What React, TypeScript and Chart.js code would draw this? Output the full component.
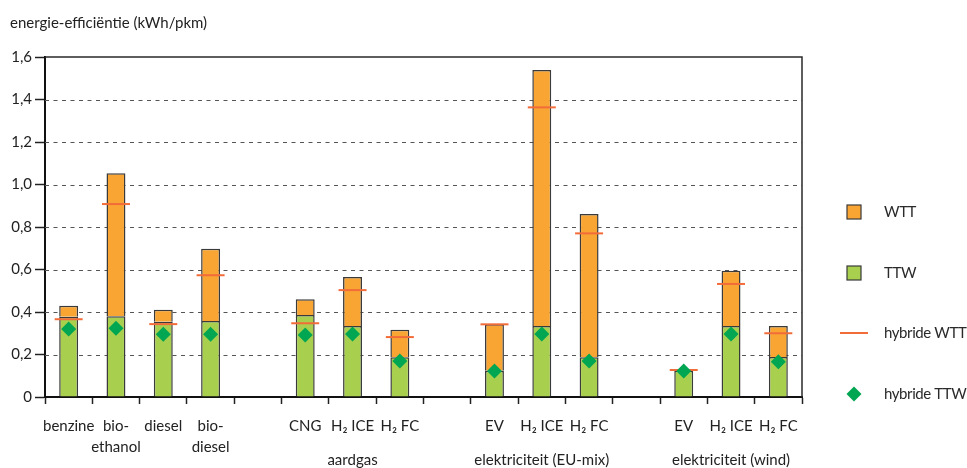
import React, { useEffect, useRef } from "react";
import { Chart, registerables } from "chart.js";

Chart.register(...registerables);

const categories: (string | string[])[] = [
  "benzine", ["bio-", "ethanol"], "diesel", ["bio-", "diesel"], "",
  "CNG", "H₂ ICE", "H₂ FC", "",
  "EV", "H₂ ICE", "H₂ FC", "",
  "EV", "H₂ ICE", "H₂ FC",
];

const groupLabels: { index: number; label: string }[] = [
  { index: 6, label: "aardgas" },
  { index: 10, label: "elektriciteit (EU-mix)" },
  { index: 14, label: "elektriciteit (wind)" },
];

const ttw = [0.378, 0.38, 0.354, 0.358, null, 0.386, 0.334, 0.187, null, 0.124, 0.334, 0.187, null, 0.124, 0.334, 0.188];
const wtt = [0.052, 0.673, 0.057, 0.34, null, 0.074, 0.231, 0.13, null, 0.218, 1.205, 0.674, null, 0, 0.26, 0.146];
const hybridWtt = [0.366, 0.908, 0.343, 0.573, null, 0.347, 0.503, 0.282, null, 0.342, 1.363, 0.77, null, 0.127, 0.532, 0.3];
const hybridTtw = [0.32, 0.323, 0.295, 0.295, null, 0.292, 0.296, 0.169, null, 0.122, 0.296, 0.169, null, 0.122, 0.296, 0.166];

const yTicks = [0, 0.2, 0.4, 0.6, 0.8, 1.0, 1.2, 1.4, 1.6];

const titleText = "energie-efficiëntie (kWh/pkm)";
const legendLabels = ["WTT", "TTW", "hybride WTT", "hybride TTW"];

const ORANGE = "#F9A533";
const GREEN = "#A8CF4E";
const RED = "#F26C3A";
const DIAMOND = "#00A651";
const EDGE = "#3a3a3a";
const FONT = "Lato, 'Open Sans', sans-serif";

const gridPlugin = {
  id: "dashedGrid",
  beforeDatasetsDraw(chart: any) {
    const { ctx, chartArea } = chart;
    const ys = chart.scales.y;
    ctx.save();
    ctx.strokeStyle = "#555";
    ctx.lineWidth = 1;
    ctx.setLineDash([4, 4.5]);
    yTicks.forEach((v) => {
      if (v === 0 || v === yTicks[yTicks.length - 1]) return;
      const y = Math.round(ys.getPixelForValue(v)) + 0.5;
      ctx.beginPath();
      ctx.moveTo(chartArea.left, y);
      ctx.lineTo(chartArea.right, y);
      ctx.stroke();
    });
    ctx.restore();
  },
};

const extrasPlugin = {
  id: "extras",
  afterDraw(chart: any) {
    const { ctx, chartArea } = chart;
    const xs = chart.scales.x;
    ctx.save();
    ctx.setLineDash([]);
    // frame: top and right
    ctx.strokeStyle = "#2a2a2a";
    ctx.lineWidth = 1.5;
    ctx.beginPath();
    ctx.moveTo(chartArea.left, chartArea.top);
    ctx.lineTo(chartArea.right, chartArea.top);
    ctx.lineTo(chartArea.right, chartArea.bottom);
    ctx.stroke();
    // group labels
    ctx.fillStyle = "#222";
    ctx.font = `15px ${FONT}`;
    ctx.textAlign = "center";
    ctx.textBaseline = "middle";
    groupLabels.forEach((g) => {
      ctx.fillText(g.label, xs.getPixelForValue(g.index), chartArea.bottom + 63);
    });
    // legend
    const bx = chartArea.right + 45;
    const tx = chartArea.right + 82;
    const ys = [155, 216, 276, 337].map((d) => chartArea.top + d);
    ctx.textAlign = "left";
    try {
      (ctx as any).letterSpacing = "-0.4px";
    } catch (e) {}
    legendLabels.forEach((lab, i) => {
      const y = ys[i];
      if (i < 2) {
        ctx.fillStyle = i === 0 ? ORANGE : GREEN;
        ctx.fillRect(bx, y - 7, 14, 14);
        ctx.strokeStyle = EDGE;
        ctx.lineWidth = 1.2;
        ctx.strokeRect(bx, y - 7, 14, 14);
      } else if (i === 2) {
        ctx.strokeStyle = RED;
        ctx.lineWidth = 2;
        ctx.beginPath();
        ctx.moveTo(bx - 7, y);
        ctx.lineTo(bx + 21, y);
        ctx.stroke();
      } else {
        ctx.fillStyle = DIAMOND;
        ctx.beginPath();
        ctx.moveTo(bx + 7, y - 7.5);
        ctx.lineTo(bx + 14.5, y);
        ctx.lineTo(bx + 7, y + 7.5);
        ctx.lineTo(bx - 0.5, y);
        ctx.closePath();
        ctx.fill();
      }
      ctx.fillStyle = "#2a2a2a";
      ctx.fillText(lab, tx, y);
    });
    ctx.restore();
  },
};

export default function App() {
  const ref = useRef<HTMLCanvasElement | null>(null);
  useEffect(() => {
    if (!ref.current) return;
    Chart.defaults.font.family = FONT;
    const chart = new Chart(ref.current, {
      type: "bar",
      data: {
        labels: categories as any,
        datasets: [
          {
            type: "bar",
            label: "TTW",
            data: ttw as any,
            backgroundColor: GREEN,
            borderColor: EDGE,
            borderWidth: 1.5,
            stack: "main",
            order: 3,
            barPercentage: 0.4,
            categoryPercentage: 1,
          },
          {
            type: "bar",
            label: "WTT",
            data: wtt as any,
            backgroundColor: ORANGE,
            borderColor: EDGE,
            borderWidth: 1.5,
            stack: "main",
            order: 3,
            barPercentage: 0.4,
            categoryPercentage: 1,
          },
          {
            type: "line",
            label: "hybride WTT",
            data: hybridWtt as any,
            showLine: false,
            pointStyle: "line",
            pointRadius: 14,
            pointBorderWidth: 2,
            pointBorderColor: RED,
            borderColor: RED,
            stack: "hybWtt",
            order: 2,
          } as any,
          {
            type: "line",
            label: "hybride TTW",
            data: hybridTtw as any,
            showLine: false,
            pointStyle: "rectRot",
            pointRadius: 7.5,
            pointBorderWidth: 0,
            pointBackgroundColor: DIAMOND,
            backgroundColor: DIAMOND,
            stack: "hybTtw",
            order: 1,
          } as any,
        ],
      },
      options: {
        responsive: true,
        maintainAspectRatio: false,
        animation: false,
        events: [],
        layout: { padding: { left: 10, right: 165, top: 0, bottom: 0 } },
        plugins: {
          legend: { display: false },
          tooltip: { enabled: false },
          title: {
            display: true,
            text: titleText,
            align: "start",
            color: "#222",
            font: { size: 15, weight: "normal", family: FONT, lineHeight: 1.2 },
            padding: { top: 14, bottom: 25 },
          },
        },
        scales: {
          x: {
            stacked: true,
            offset: true,
            grid: {
              display: true,
              drawOnChartArea: false,
              offset: true,
              tickLength: 7,
              tickColor: "#222",
              tickWidth: 1.5,
            },
            border: { display: true, color: "#111", width: 2 },
            ticks: {
              autoSkip: false,
              maxRotation: 0,
              minRotation: 0,
              padding: 12,
              color: "#222",
              font: { size: 15, family: FONT, lineHeight: 1.4 },
            },
            afterFit: (s: any) => {
              s.height = 71;
            },
          },
          y: {
            stacked: true,
            min: 0,
            max: 1.6,
            afterBuildTicks: (s: any) => {
              s.ticks = yTicks.map((v) => ({ value: v }));
            },
            grid: {
              display: true,
              drawOnChartArea: false,
              tickLength: 10,
              tickColor: "#222",
              tickWidth: 1.5,
            },
            border: { display: true, color: "#111", width: 2 },
            ticks: {
              padding: 3,
              color: "#222",
              font: { size: 15, family: FONT },
              callback: (v: any) => (Number(v) === 0 ? "0" : Number(v).toFixed(1).replace(".", ",")),
            },
            afterFit: (s: any) => {
              s.width = 35;
            },
          },
        },
      },
      plugins: [gridPlugin, extrasPlugin],
    });
    return () => chart.destroy();
  }, []);
  return (
    <div style={{ position: "absolute", left: 0, top: 0, width: 967, height: 468, background: "#fff" }}>
      <canvas ref={ref} />
    </div>
  );
}
